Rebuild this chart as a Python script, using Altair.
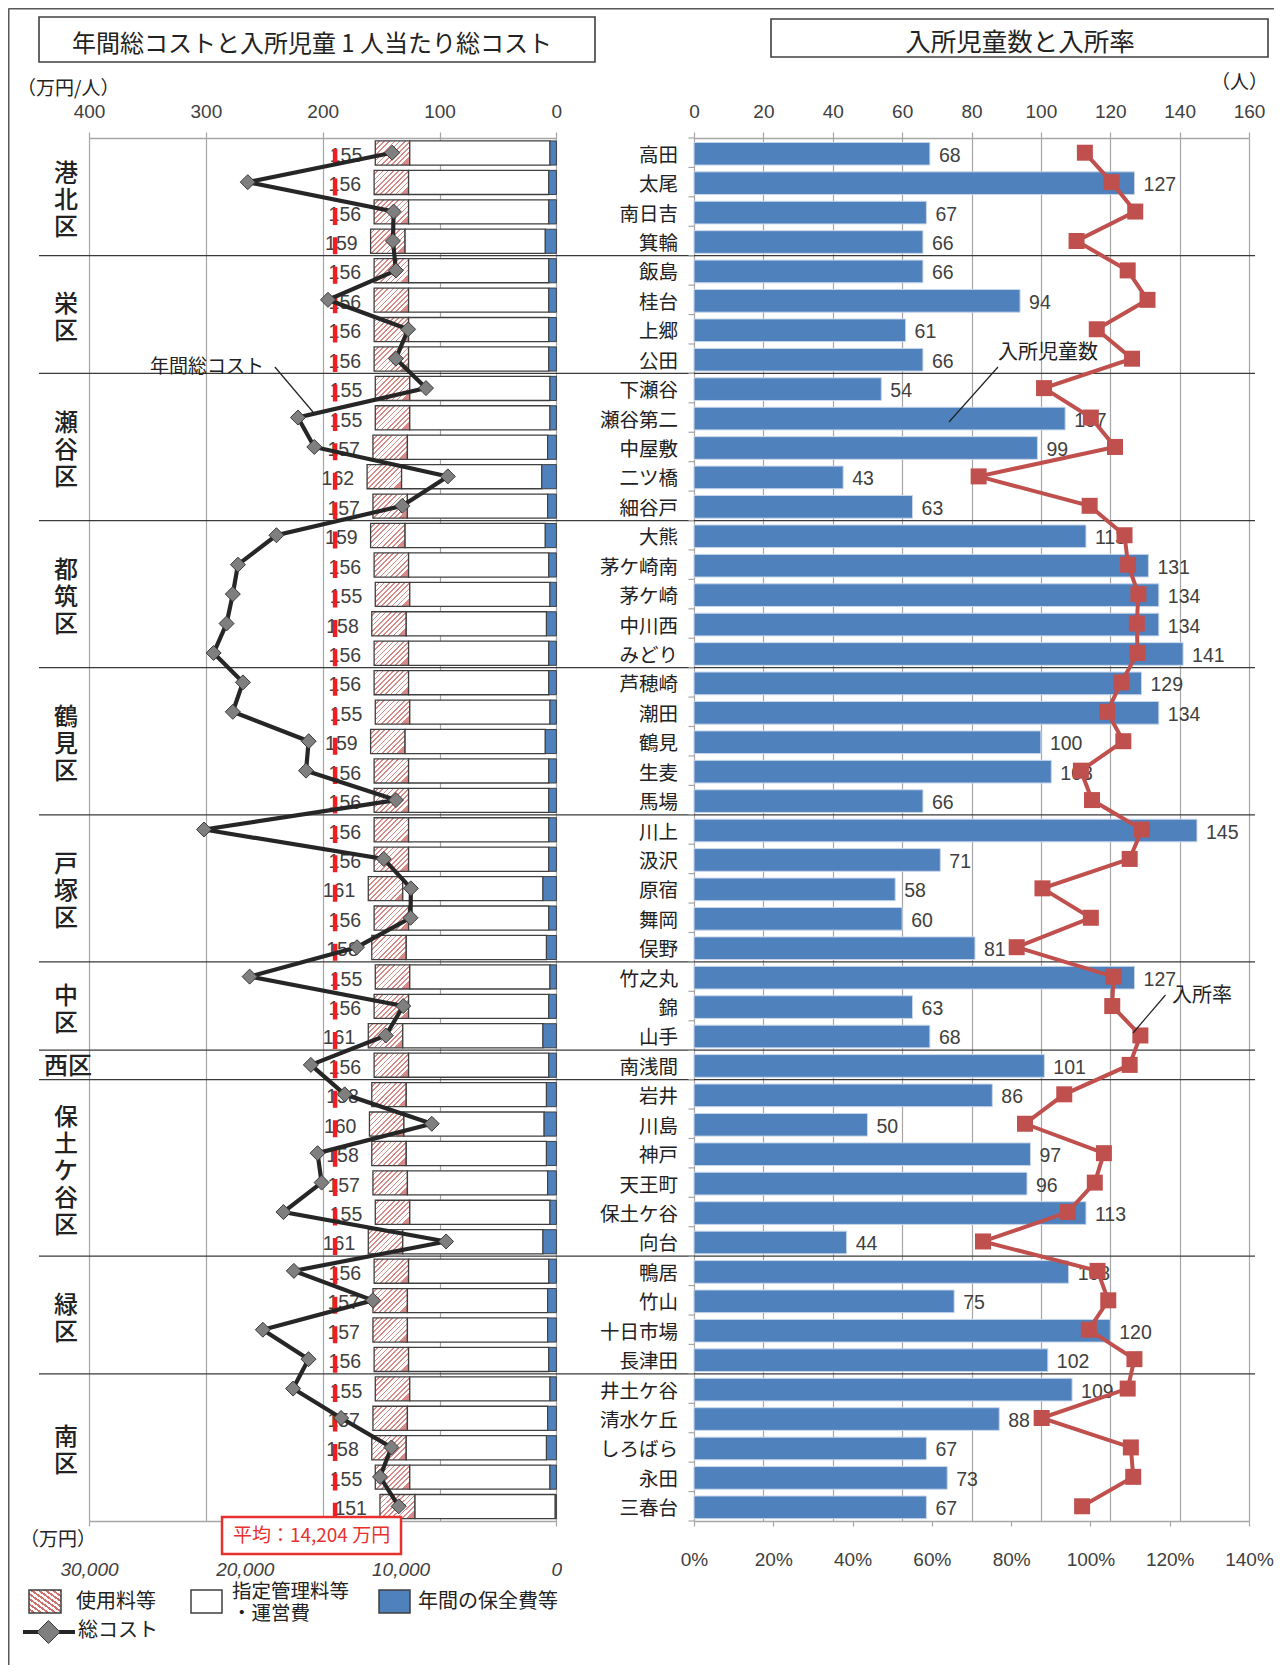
import altair as alt
import pandas as pd

# ---------------- data ----------------
districts = ["港北区", "栄区", "瀬谷区", "都筑区", "鶴見区", "戸塚区", "中区", "西区", "保土ケ谷区", "緑区", "南区"]
district_sizes = [4, 4, 5, 5, 5, 5, 3, 1, 6, 4, 5]

facilities = ["高田", "太尾", "南日吉", "箕輪",
              "飯島", "桂台", "上郷", "公田",
              "下瀬谷", "瀬谷第二", "中屋敷", "二ツ橋", "細谷戸",
              "大熊", "茅ケ崎南", "茅ケ崎", "中川西", "みどり",
              "芦穂崎", "潮田", "鶴見", "生麦", "馬場",
              "川上", "汲沢", "原宿", "舞岡", "俣野",
              "竹之丸", "錦", "山手",
              "南浅間",
              "岩井", "川島", "神戸", "天王町", "保土ケ谷", "向台",
              "鴨居", "竹山", "十日市場", "長津田",
              "井土ケ谷", "清水ケ丘", "しろばら", "永田", "三春台"]

# 入所児童1人当たり総コスト (万円/人)
cost_per_child = [155, 156, 156, 159,
                  156, 156, 156, 156,
                  155, 155, 157, 162, 157,
                  159, 156, 155, 158, 156,
                  156, 155, 159, 156, 156,
                  156, 156, 161, 156, 158,
                  155, 156, 161,
                  156,
                  158, 160, 158, 157, 155, 161,
                  156, 157, 157, 156,
                  155, 157, 158, 155, 151]
# 使用料等
usage_fee = [29.5, 29.5, 29.5, 29.5,
             29.5, 29.5, 29.5, 29.5,
             29.5, 29.5, 29.5, 29.5, 29.5,
             29.5, 29.5, 29.5, 29.5, 29.5,
             29.5, 29.5, 29.5, 29.5, 29.5,
             29.5, 29.5, 29.5, 29.5, 29.5,
             29.5, 29.5, 29.5,
             29.5,
             29.5, 29.5, 29.5, 29.5, 29.5, 29.5,
             29.5, 29.5, 29.5, 29.5,
             29.5, 29.5, 29.5, 29.5, 30.0]
# 指定管理料等・運営費
operating_cost = [120.0, 120.0, 120.0, 120.0,
                  120.0, 120.0, 120.0, 120.0,
                  120.0, 120.0, 120.0, 120.0, 120.0,
                  120.0, 120.0, 120.0, 120.0, 120.0,
                  120.0, 120.0, 120.0, 120.0, 120.0,
                  120.0, 120.0, 120.0, 120.0, 120.0,
                  120.0, 120.0, 120.0,
                  120.0,
                  120.0, 120.0, 120.0, 120.0, 120.0, 120.0,
                  120.0, 120.0, 120.0, 120.0,
                  120.0, 120.0, 120.0, 120.0, 120.0]
# 年間の保全費等
maintenance = [5.5, 6.5, 6.5, 9.5,
               6.5, 6.5, 6.5, 6.5,
               5.5, 5.5, 7.5, 12.5, 7.5,
               9.5, 6.5, 5.5, 8.5, 6.5,
               6.5, 5.5, 9.5, 6.5, 6.5,
               6.5, 6.5, 11.5, 6.5, 8.5,
               5.5, 6.5, 11.5,
               6.5,
               8.5, 10.5, 8.5, 7.5, 5.5, 11.5,
               6.5, 7.5, 7.5, 6.5,
               5.5, 7.5, 8.5, 5.5, 1.0]
# 年間総コスト (万円)
annual_cost = [10540, 19810, 10450, 10490,
               10300, 14660, 9520, 10300,
               8370, 16590, 15540, 6970, 9890,
               17970, 20440, 20770, 21170, 22000,
               20120, 20770, 15900, 16070, 10300,
               22620, 11080, 9340, 9360, 12800,
               19690, 9830, 10950,
               15760,
               13590, 8000, 15330, 15070, 17520, 7080,
               16850, 11780, 18840, 15910,
               16900, 13820, 10590, 11320, 10120]
# 入所児童数 (人)
children = [68, 127, 67, 66,
            66, 94, 61, 66,
            54, 107, 99, 43, 63,
            113, 131, 134, 134, 141,
            129, 134, 100, 103, 66,
            145, 71, 58, 60, 81,
            127, 63, 68,
            101,
            86, 50, 97, 96, 113, 44,
            108, 75, 120, 102,
            109, 88, 67, 73, 67]
# 入所率 (%)
occupancy_rate = [98.6, 105.3, 111.3, 96.5,
                  109.4, 114.4, 101.6, 110.5,
                  88.3, 100.1, 106.2, 71.8, 99.8,
                  108.6, 109.5, 112.1, 111.7, 111.9,
                  107.8, 104.2, 108.3, 97.6, 100.4,
                  113.0, 109.9, 87.9, 100.1, 81.4,
                  105.8, 105.5, 112.6,
                  109.9,
                  93.4, 83.5, 103.4, 101.1, 94.3, 72.9,
                  101.8, 104.5, 99.6, 111.1,
                  109.4, 87.7, 110.2, 110.8, 97.9]
average_cost = 14204

left_ticks = [0, 100, 200, 300, 400]
annual_ticks = [0, 10000, 20000, 30000]
children_ticks = [0, 20, 40, 60, 80, 100, 120, 140, 160]
rate_ticks = [0, 20, 40, 60, 80, 100, 120, 140]

# ---------------- styling ----------------
JP = "Noto Sans CJK JP"
NUM = "Liberation Sans"
TXT = "#222222"
W, H = 1266, 1383
N = len(facilities)
ROW = H / N
LINE_H = 27

def stripes(x1, y1, x2, y2, n, frac, col):
    stops = []
    for i in range(n):
        a = i / n
        b = (i + 1 - frac) / n
        c = (i + 1) / n
        stops += [{"offset": a, "color": "#FFFFFF"}, {"offset": b, "color": "#FFFFFF"},
                  {"offset": b, "color": col}, {"offset": c, "color": col}]
    return {"gradient": "linear", "x1": x1, "y1": y1, "x2": x2, "y2": y2, "stops": stops}

HATCH = stripes(0, 0, 1, 0.7, 10, 0.33, "#D68B89")
HATCH_LEG = stripes(0, 1, 1, 0, 9, 0.45, "#D06F6C")

# ---------------- tables ----------------
df = pd.DataFrame({
    "facility": facilities, "idx": list(range(N)), "total": cost_per_child,
    "usage": usage_fee, "oper": operating_cost, "maint": maintenance,
    "annual": annual_cost, "children": children, "rate": occupancy_rate,
})
df["zero"] = 0.0
df["blue_end"] = df["maint"]
df["white_end"] = df["maint"] + df["oper"]
df["hatch_end"] = df["white_end"] + df["usage"]
df["y0"] = df["idx"] + 0.10
df["y1"] = df["idx"] + 0.92
df["ry0"] = df["idx"] + 0.15
df["ry1"] = df["idx"] + 0.92
df["ym"] = df["idx"] + 0.5

starts, s = [], 0
for n_ in district_sizes:
    starts.append(s)
    s += n_
dist_rows = []
for d, st, n_ in zip(districts, starts, district_sizes):
    mid = st + n_ / 2
    if n_ > 1:
        lines = len(d)
        dist_rows.append({"label": "\n".join(list(d)), "y": mid - (lines - 1) * LINE_H / 2 / ROW,
                          "vertical": True})
    else:
        dist_rows.append({"label": d, "y": mid, "vertical": False})
dist = pd.DataFrame(dist_rows)
seps = pd.DataFrame({"b": starts[1:]})
bounds = pd.DataFrame({"b": list(range(N + 1))})
one = pd.DataFrame({"k": [0]})

# ---------------- scales ----------------
Y = alt.Scale(domain=[0, N], range=[0, H], nice=False, zero=False)
XL = alt.Scale(domain=[0, 400], range=[548.4, 81], nice=False)
XA = alt.Scale(domain=[0, 30000], range=[548.4, 81], nice=False)
XR = alt.Scale(domain=[0, 160], range=[686, 1241], nice=False)
XP = alt.Scale(domain=[0, 140], range=[686, 1241], nice=False)

GRID = "#A6A6A6"
common_axis = dict(labelFont=NUM, labelFontSize=19, labelColor="#404040", title=None,
                   labelFlush=False, labelOverlap=False, domainColor=GRID, tickColor=GRID,
                   domainWidth=1.5, tickWidth=1.2)

ax_left_top = alt.Axis(orient="top", values=left_ticks, grid=True, gridColor=GRID, gridWidth=1.2,
                       tickSize=6, labelPadding=11, **common_axis)
ax_right_top = alt.Axis(orient="top", values=children_ticks, grid=True, gridColor=GRID, gridWidth=1.2,
                        tickSize=6, labelPadding=11, **common_axis)
ax_left_bottom = alt.Axis(orient="bottom", values=annual_ticks, labelExpr="format(datum.value, ',')",
                          grid=False, labelFontStyle="italic", tickSize=5, labelPadding=34, **common_axis)
ax_right_bottom = alt.Axis(orient="bottom", values=rate_ticks, labelExpr="datum.value + '%'",
                           grid=False, tickSize=5, labelPadding=24, **common_axis)

yb = lambda f: alt.Y(f, scale=Y, axis=None)

# ---------------- helpers for annotations ----------------
def vtext(txt, x, y, size, align="left", color=TXT, font=JP, **kw):
    return alt.Chart(pd.DataFrame({"t": [txt]})).mark_text(
        align=align, baseline="middle", font=font, fontSize=size, color=color, **kw
    ).encode(x=alt.value(x), y=alt.value(y), text="t:N")

def vrect(x, x2, y, y2, **kw):
    return alt.Chart(one).mark_rect(**kw).encode(
        x=alt.value(x), x2=alt.value(x2), y=alt.value(y), y2=alt.value(y2))

def vrule(x, x2, y, y2, **kw):
    return alt.Chart(one).mark_rule(**kw).encode(
        x=alt.value(x), x2=alt.value(x2), y=alt.value(y), y2=alt.value(y2))

# ---------------- left panel ----------------
base = alt.Chart(df)
hatch = base.mark_rect(fill=HATCH, stroke="#3F3F3F", strokeWidth=1.3).encode(
    x=alt.X("white_end:Q", scale=XL, axis=None), x2="hatch_end:Q", y=yb("y0:Q"), y2="y1:Q")
white = base.mark_rect(fill="#FFFFFF", stroke="#3F3F3F", strokeWidth=1.3).encode(
    x=alt.X("blue_end:Q", scale=XL, axis=ax_left_top), x2="white_end:Q", y=yb("y0:Q"), y2="y1:Q")
blue = base.mark_rect(fill="#4F81BD", stroke="#3F3F3F", strokeWidth=1.0).encode(
    x=alt.X("zero:Q", scale=XL, axis=None), x2="blue_end:Q", y=yb("y0:Q"), y2="y1:Q")
left_labels = base.mark_text(align="right", baseline="middle", dx=-13, dy=3, font=NUM,
                             fontSize=19.5, color="#404040").encode(
    x=alt.X("hatch_end:Q", scale=XL, axis=None), y=yb("ym:Q"), text="total:Q")

avg_rule = alt.Chart(pd.DataFrame({"avg": [average_cost]})).mark_rule(
    color="#F01E23", strokeWidth=4.5, strokeDash=[17, 12.43], strokeDashOffset=18.4).encode(
    x=alt.X("avg:Q", scale=XA, axis=None), y=alt.value(0), y2=alt.value(H))

annual_line = base.mark_line(color="#262626", strokeWidth=4.2).encode(
    x=alt.X("annual:Q", scale=XA, axis=ax_left_bottom), y=yb("ym:Q"), order=alt.Order("idx:Q"))
annual_pts = base.mark_point(shape="diamond", filled=True, size=225, fill="#7F7F7F",
                             stroke="#3A3A3A", strokeWidth=1, opacity=1).encode(
    x=alt.X("annual:Q", scale=XA, axis=None), y=yb("ym:Q"))

# ---------------- right panel ----------------
right_bars = base.mark_rect(fill="#4F81BD", stroke="#C8D6EA", strokeWidth=1).encode(
    x=alt.X("zero:Q", scale=XR, axis=ax_right_top), x2="children:Q", y=yb("ry0:Q"), y2="ry1:Q")
right_labels = base.mark_text(align="left", baseline="middle", dx=9, dy=3, font=NUM,
                              fontSize=19.5, color="#404040").encode(
    x=alt.X("children:Q", scale=XR, axis=None), y=yb("ym:Q"), text="children:Q")
rate_line = base.mark_line(color="#C0504D", strokeWidth=4).encode(
    x=alt.X("rate:Q", scale=XP, axis=ax_right_bottom), y=yb("ym:Q"), order=alt.Order("idx:Q"))
rate_pts = base.mark_point(shape="square", filled=True, size=256, color="#C0504D", opacity=1).encode(
    x=alt.X("rate:Q", scale=XP, axis=None), y=yb("ym:Q"))

# ---------------- row / district labels ----------------
names = base.mark_text(align="right", baseline="middle", dy=3, font=JP, fontSize=19.5, color=TXT).encode(
    x=alt.value(670), y=yb("ym:Q"), text="facility:N")
dist_v = alt.Chart(dist).transform_filter("datum.vertical").mark_text(
    align="center", baseline="middle", lineBreak="\n", lineHeight=LINE_H, dy=4, font=JP,
    fontSize=24, fontWeight=500, color=TXT).encode(x=alt.value(58), y=yb("y:Q"), text="label:N")
dist_h = alt.Chart(dist).transform_filter("!datum.vertical").mark_text(
    align="center", baseline="middle", dy=2, font=JP, fontSize=24, fontWeight=500, color=TXT).encode(
    x=alt.value(60), y=yb("y:Q"), text="label:N")
sep_rules = alt.Chart(seps).mark_rule(color="#3A3A3A", strokeWidth=1.3).encode(
    x=alt.value(31), x2=alt.value(1247), y=yb("b:Q"))
row_ticks = alt.Chart(bounds).mark_rule(color=GRID, strokeWidth=1.2).encode(
    x=alt.value(680.5), x2=alt.value(686), y=yb("b:Q"))

# ---------------- titles, frame, annotations, legend ----------------
frame = [
    vrule(0.5, 1266, -129.5, -129.5, color="#595959", strokeWidth=2),
    vrule(0.5, 0.5, -129.5, 1527, color="#595959", strokeWidth=2),
]
titles = [
    vrect(31, 587, -121, -76, fill="#FFFFFF", stroke="#404040", strokeWidth=1.6),
    vtext("年間総コストと入所児童 1 人当たり総コスト", 304, -93, 24, align="center"),
    vrect(763, 1260, -119, -81, fill="#FFFFFF", stroke="#404040", strokeWidth=1.6),
    vtext("入所児童数と入所率", 1012, -95, 25.5, align="center"),
    vtext("（万円/人）", 9, -49, 19),
    vtext("（人）", 1260, -55, 19, align="right"),
    vtext("（万円）", 12, 1402, 19),
]
annotations = [
    vtext("年間総コスト", 142, 229, 19),
    vrule(266.9, 305, 229, 274, color="#222222", strokeWidth=1.2),
    vtext("入所児童数", 990, 215, 20),
    vrule(990, 941, 229, 284, color="#222222", strokeWidth=1.2),
    vtext("入所率", 1164, 858, 20),
    vrule(1157.5, 1125, 857, 895, color="#222222", strokeWidth=1.2),
]
avg_box = [
    vrect(214, 393, 1379, 1416, fill="#FFFFFF", stroke="#E8312F", strokeWidth=2.5),
    vtext("平均：14,204 万円", 303.5, 1398, 19, align="center", color="#E8312F"),
]
legend = [
    vrect(21, 53, 1452, 1475, fill=HATCH_LEG, stroke="#3F3F3F", strokeWidth=1.5),
    vtext("使用料等", 68, 1464, 20),
    vrect(183, 214, 1452, 1475, fill="#FFFFFF", stroke="#3F3F3F", strokeWidth=1.5),
    vtext("指定管理料等", 224, 1454, 19.5),
    vtext("・運営費", 224, 1476, 19.5),
    vrect(371, 402, 1452, 1475, fill="#4F81BD", stroke="#3F3F3F", strokeWidth=1.5),
    vtext("年間の保全費等", 410, 1464, 20),
    vrule(15, 67, 1494, 1494, color="#262626", strokeWidth=4),
    alt.Chart(one).mark_point(shape="diamond", filled=True, size=529, fill="#7F7F7F",
                              stroke="#3A3A3A", strokeWidth=1, opacity=1).encode(
        x=alt.value(40.5), y=alt.value(1494)),
    vtext("総コスト", 70, 1493, 20),
]

layers = (frame + titles +
          [hatch, white, blue, sep_rules, row_ticks, left_labels, avg_rule, annual_line, annual_pts,
           right_bars, right_labels, rate_line, rate_pts, names, dist_v, dist_h] +
          annotations + avg_box + legend)

chart = alt.layer(*layers).resolve_scale(x="independent").properties(
    width=W, height=H,
    autosize=alt.AutoSizeParams(type="none"),
    padding={"left": 0, "top": 130, "right": 0, "bottom": 144},
).configure_view(stroke=None)

chart.save("out.html", embed_options={"renderer": "svg", "actions": False})
